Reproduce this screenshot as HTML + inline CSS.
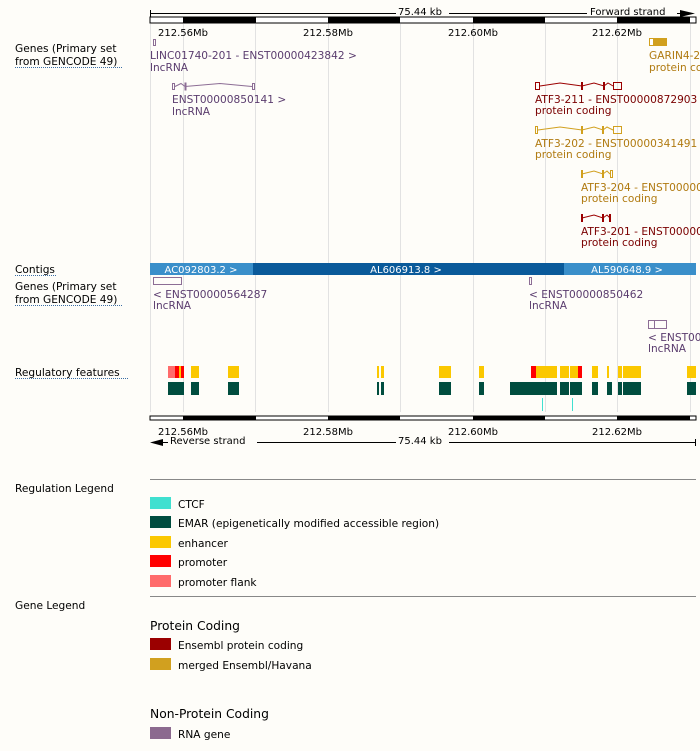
<!DOCTYPE html>
<html><head><meta charset="utf-8"><style>
html,body{margin:0;padding:0;background:#fefdf9;}
svg{display:block;font-family:"DejaVu Sans","Liberation Sans",sans-serif;font-size:10.6px;}
</style></head><body>
<svg width="700" height="751" viewBox="0 0 700 751">
<rect width="700" height="751" fill="#fefdf9"/>
<!-- grid -->
<g stroke="#e2e2e2" stroke-width="1">
<line x1="150.5" y1="24" x2="150.5" y2="412"/>
<line x1="183.5" y1="24" x2="183.5" y2="412"/>
<line x1="255.5" y1="24" x2="255.5" y2="412"/>
<line x1="328.5" y1="24" x2="328.5" y2="412"/>
<line x1="400.5" y1="24" x2="400.5" y2="412"/>
<line x1="473.5" y1="24" x2="473.5" y2="412"/>
<line x1="545.5" y1="24" x2="545.5" y2="412"/>
<line x1="617.5" y1="24" x2="617.5" y2="412"/>
<line x1="690.5" y1="24" x2="690.5" y2="412"/>
</g>
<!-- top ruler -->
<g fill="#000" stroke="none">
<rect x="150" y="13" width="246" height="1"/>
<rect x="449" y="13" width="138" height="1"/>
<rect x="150" y="10" width="1" height="7"/>
<text x="398" y="15" font-size="10">75.44 kb</text>
<text x="590" y="15" font-size="10">Forward strand</text>
<rect x="677" y="13" width="8" height="1"/>
<polygon points="680,10 695,13.5 680,17"/>
<rect x="150" y="17" width="546" height="6" fill="#fff" stroke="#000"/>
<rect x="183" y="17" width="73" height="6"/><rect x="328" y="17" width="72" height="6"/>
<rect x="473" y="17" width="72" height="6"/><rect x="617" y="17" width="73" height="6"/>
<text x="183" y="36" font-size="10" text-anchor="middle">212.56Mb</text>
<text x="328" y="36" font-size="10" text-anchor="middle">212.58Mb</text>
<text x="473" y="36" font-size="10" text-anchor="middle">212.60Mb</text>
<text x="617" y="36" font-size="10" text-anchor="middle">212.62Mb</text>
</g>
<!-- left labels -->
<g fill="#000">
<text x="15" y="52">Genes (Primary set</text>
<text x="15" y="65">from GENCODE 49)</text>
<text x="15" y="273">Contigs</text>
<text x="15" y="290">Genes (Primary set</text>
<text x="15" y="303">from GENCODE 49)</text>
<text x="15" y="376">Regulatory features</text>
</g>
<g stroke="#3a6ea5" stroke-width="1" stroke-dasharray="1,1">
<line x1="15" y1="67.5" x2="123" y2="67.5"/>
<line x1="15" y1="275.5" x2="57" y2="275.5"/>
<line x1="15" y1="305.5" x2="123" y2="305.5"/>
<line x1="15" y1="378.5" x2="128" y2="378.5"/>
</g>
<!-- forward genes -->
<g fill="none" stroke="#8c6d95">
<rect x="153.5" y="39.5" width="2" height="6"/>
<rect x="172.5" y="83.5" width="2" height="6"/>
<rect x="252.5" y="83.5" width="2" height="6"/>
<polyline points="175,86.5 181,83.5 185,86.5 220,83.5 252,86.5"/>
<rect x="185" y="83" width="1" height="7" fill="#8c6d95"/>
</g>
<g fill="#5a3c6e">
<text x="150" y="59">LINC01740-201 - ENST00000423842 &gt;</text>
<text x="150" y="71">lncRNA</text>
<text x="172" y="103">ENST00000850141 &gt;</text>
<text x="172" y="115">lncRNA</text>
</g>
<rect x="649" y="38" width="18" height="8" fill="#d1a01f"/>
<rect x="650" y="39" width="3" height="6" fill="#fff"/>
<g fill="#b07a10"><text x="649" y="59">GARIN4-2</text><text x="649" y="71">protein co</text></g>
<!-- ATF3-211 -->
<g stroke="#9b0000" fill="none">
<rect x="535.5" y="82.5" width="4" height="7"/>
<polyline points="540,86 560,83 582,86 594,83 604,86 608,83 613,86"/>
<line x1="582" y1="82" x2="582" y2="90" stroke-width="2"/>
<line x1="604" y1="82" x2="604" y2="90" stroke-width="2"/>
<rect x="613.5" y="82.5" width="8" height="7"/>
</g>
<g fill="#7a0000"><text x="535" y="103">ATF3-211 - ENST00000872903</text><text x="535" y="114">protein coding</text></g>
<!-- ATF3-202 -->
<g stroke="#d1a01f" fill="none">
<rect x="535.5" y="126.5" width="2" height="7"/>
<polyline points="538,130 560,127 582,130 594,127 603,130 607,127 613,130"/>
<line x1="582" y1="126" x2="582" y2="134" stroke-width="2"/>
<line x1="603" y1="126" x2="603" y2="134" stroke-width="2"/>
<rect x="613.5" y="126.5" width="8" height="7"/>
</g>
<g fill="#b07a10"><text x="535" y="147">ATF3-202 - ENST00000341491</text><text x="535" y="158">protein coding</text></g>
<!-- ATF3-204 -->
<g stroke="#d1a01f" fill="none">
<polyline points="582,174 594,171 603,174 607,171 610,174"/>
<line x1="582" y1="170" x2="582" y2="178" stroke-width="2"/>
<line x1="603" y1="170" x2="603" y2="178" stroke-width="2"/>
<rect x="610.5" y="170.5" width="2" height="7"/>
</g>
<g fill="#b07a10"><text x="581" y="191">ATF3-204 - ENST00000</text><text x="581" y="202">protein coding</text></g>
<!-- ATF3-201 -->
<g stroke="#9b0000" fill="none">
<polyline points="582,218 594,215 603,218 607,215 610,218"/>
<line x1="582" y1="214" x2="582" y2="222" stroke-width="2"/>
<line x1="603" y1="214" x2="603" y2="222" stroke-width="2"/>
<line x1="610" y1="214" x2="610" y2="222" stroke-width="2"/>
</g>
<g fill="#7a0000"><text x="581" y="235">ATF3-201 - ENST00000</text><text x="581" y="246">protein coding</text></g>
<!-- contigs -->
<rect x="150" y="263" width="103" height="12" fill="#3a8fca"/>
<rect x="253" y="263" width="311" height="12" fill="#0a5a9a"/>
<rect x="564" y="263" width="132" height="12" fill="#3a8fca"/>
<g fill="#fff" font-size="10">
<text x="201" y="273" text-anchor="middle">AC092803.2 &gt;</text>
<text x="406" y="273" text-anchor="middle">AL606913.8 &gt;</text>
<text x="627" y="273" text-anchor="middle">AL590648.9 &gt;</text>
</g>
<!-- reverse genes -->
<g fill="none" stroke="#8c6d95">
<rect x="153.5" y="277.5" width="28" height="7"/>
<rect x="529.5" y="277.5" width="2" height="7"/>
<rect x="648.5" y="320.5" width="18" height="8"/>
<line x1="654.5" y1="320" x2="654.5" y2="329"/>
</g>
<g fill="#5a3c6e">
<text x="153" y="298">&lt; ENST00000564287</text><text x="153" y="309">lncRNA</text>
<text x="529" y="298">&lt; ENST00000850462</text><text x="529" y="309">lncRNA</text>
<text x="648" y="341">&lt; ENST00</text><text x="648" y="352">lncRNA</text>
</g>
<!-- regulatory -->
<g>
<rect x="168" y="366" width="7" height="12" fill="#ff6b6b"/>
<rect x="175" y="366" width="4" height="12" fill="#ff0000"/>
<rect x="179" y="366" width="2" height="12" fill="#fbc800"/>
<rect x="181" y="366" width="3" height="12" fill="#ff0000"/>
<g fill="#fbc800">
<rect x="191" y="366" width="8" height="12"/>
<rect x="228" y="366" width="11" height="12"/>
<rect x="377" y="366" width="2" height="12"/>
<rect x="381" y="366" width="3" height="12"/>
<rect x="439" y="366" width="12" height="12"/>
<rect x="479" y="366" width="5" height="12"/>
<rect x="536" y="366" width="21" height="12"/>
<rect x="560" y="366" width="9" height="12"/>
<rect x="570" y="366" width="8" height="12"/>
<rect x="592" y="366" width="6" height="12"/>
<rect x="607" y="366" width="2" height="12"/>
<rect x="618" y="366" width="4" height="12"/>
<rect x="623" y="366" width="18" height="12"/>
<rect x="687" y="366" width="9" height="12"/>
</g>
<rect x="531" y="366" width="5" height="12" fill="#ff0000"/>
<rect x="578" y="366" width="4" height="12" fill="#ff0000"/>
<g fill="#004d3f">
<rect x="168" y="382" width="16" height="13"/>
<rect x="191" y="382" width="8" height="13"/>
<rect x="228" y="382" width="11" height="13"/>
<rect x="377" y="382" width="2" height="13"/>
<rect x="381" y="382" width="3" height="13"/>
<rect x="439" y="382" width="12" height="13"/>
<rect x="479" y="382" width="5" height="13"/>
<rect x="510" y="382" width="47" height="13"/>
<rect x="560" y="382" width="9" height="13"/>
<rect x="570" y="382" width="12" height="13"/>
<rect x="592" y="382" width="6" height="13"/>
<rect x="607" y="382" width="5" height="13"/>
<rect x="618" y="382" width="4" height="13"/>
<rect x="623" y="382" width="18" height="13"/>
<rect x="687" y="382" width="9" height="13"/>
</g>
<rect x="542" y="398" width="1" height="13" fill="#40e0d0"/>
<rect x="572" y="398" width="1" height="13" fill="#40e0d0"/>
</g>
<!-- bottom ruler -->
<g fill="#000">
<rect x="150" y="416" width="546" height="4" fill="#fff" stroke="#000"/>
<rect x="183" y="416" width="73" height="4"/><rect x="328" y="416" width="72" height="4"/>
<rect x="473" y="416" width="72" height="4"/><rect x="617" y="416" width="73" height="4"/>
<text x="183" y="435" font-size="10" text-anchor="middle">212.56Mb</text>
<text x="328" y="435" font-size="10" text-anchor="middle">212.58Mb</text>
<text x="473" y="435" font-size="10" text-anchor="middle">212.60Mb</text>
<text x="617" y="435" font-size="10" text-anchor="middle">212.62Mb</text>
<polygon points="150,442.5 163,439 163,446"/>
<rect x="160" y="442" width="8" height="1"/>
<text x="170" y="444" font-size="10">Reverse strand</text>
<rect x="257" y="442" width="139" height="1"/>
<rect x="449" y="442" width="246" height="1"/>
<rect x="695" y="439" width="1" height="7"/>
<text x="398" y="444" font-size="10">75.44 kb</text>
</g>
<!-- legend -->
<rect x="150" y="479" width="546" height="1" fill="#888"/>
<text x="15" y="492" fill="#000">Regulation Legend</text>
<rect x="150" y="497" width="21" height="12" fill="#40e0d0"/>
<rect x="150" y="516" width="21" height="12" fill="#004d3f"/>
<rect x="150" y="536" width="21" height="12" fill="#fbc800"/>
<rect x="150" y="555" width="21" height="12" fill="#ff0000"/>
<rect x="150" y="575" width="21" height="12" fill="#ff6b6b"/>
<g fill="#000">
<text x="178" y="508">CTCF</text>
<text x="178" y="527">EMAR (epigenetically modified accessible region)</text>
<text x="178" y="547">enhancer</text>
<text x="178" y="566">promoter</text>
<text x="178" y="586">promoter flank</text>
</g>
<rect x="150" y="596" width="546" height="1" fill="#888"/>
<text x="15" y="609" fill="#000">Gene Legend</text>
<text x="150" y="630" fill="#000" font-size="12.3">Protein Coding</text>
<rect x="150" y="638" width="21" height="12" fill="#9b0000"/>
<rect x="150" y="658" width="21" height="12" fill="#d1a01f"/>
<text x="178" y="649" fill="#000">Ensembl protein coding</text>
<text x="178" y="669" fill="#000">merged Ensembl/Havana</text>
<text x="150" y="718" fill="#000" font-size="12.3">Non-Protein Coding</text>
<rect x="150" y="727" width="21" height="12" fill="#8c6a8f"/>
<text x="178" y="738" fill="#000">RNA gene</text>
</svg>
</body></html>
